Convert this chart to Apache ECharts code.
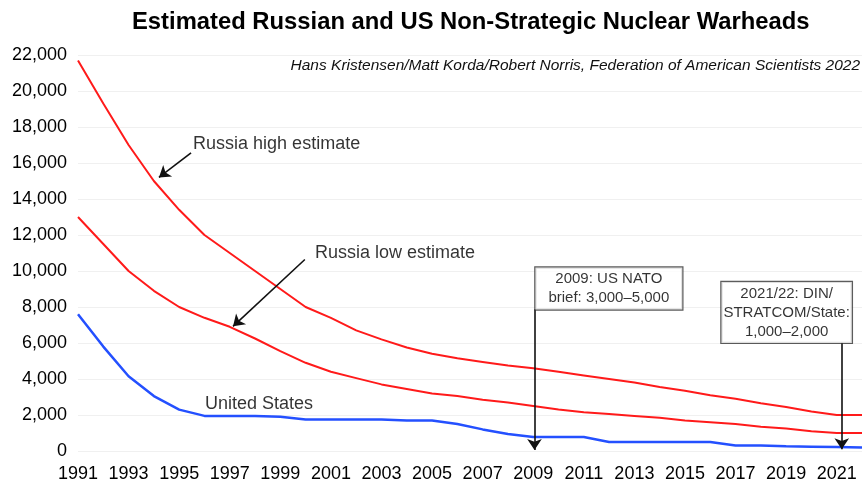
<!DOCTYPE html>
<html><head><meta charset="utf-8">
<script src="https://cdn.jsdelivr.net/npm/echarts@6/dist/echarts.min.js"></script>
<style>html,body{margin:0;padding:0;background:#fff}#c{width:867px;height:483px}</style>
</head><body><div id="c"></div>
<script>
// ---- data ----
const years = [1991,1992,1993,1994,1995,1996,1997,1998,1999,2000,2001,2002,2003,2004,2005,2006,2007,2008,2009,2010,2011,2012,2013,2014,2015,2016,2017,2018,2019,2020,2021,2022];
const russiaHigh = [21700,19300,17000,15000,13400,12000,11000,10000,9000,8000,7400,6700,6200,5750,5400,5150,4950,4750,4600,4400,4200,4000,3800,3550,3350,3100,2900,2650,2450,2200,2000,2000];
const russiaLow = [13000,11500,10000,8900,8000,7400,6900,6250,5550,4900,4400,4050,3700,3450,3200,3050,2850,2700,2500,2300,2150,2050,1950,1850,1700,1600,1500,1350,1250,1100,1000,1000];
const unitedStates = [7600,5800,4150,3050,2300,1950,1950,1950,1900,1750,1750,1750,1750,1700,1700,1500,1200,950,780,780,780,500,500,500,500,500,300,300,260,240,220,200];
const xTickLabels = [1991,1993,1995,1997,1999,2001,2003,2005,2007,2009,2011,2013,2015,2017,2019,2021];
const yMin = 0, yMax = 22000, yStep = 2000;

const titleText = 'Estimated Russian and US Non-Strategic Nuclear Warheads';
const sourceText = 'Hans Kristensen/Matt Korda/Robert Norris, Federation of American Scientists 2022';

// annotation arrows: [from, to] in [year, warheads]
const arrowNotes = [
  [[1995.47,16560],[1994.2,15200]],
  [[1999.97,10640],[1997.13,6925]],
  [[2009.05,7870],[2009.05,60]],
  [[2021.2,6040],[2021.2,100]]
];
// plain text notes: [text, year, warheads] (left edge, vertical middle)
const plainNotes = [
  ['Russia high estimate',1995.55,17060],
  ['Russia low estimate',2000.37,11020],
  ['United States',1996.02,2600]
];
// boxed notes: [text, year, warheads] (box centre)
const boxNotes = [
  ['2009: US NATO\nbrief: 3,000\u20135,000',2011.99,9030],
  ['2021/22: DIN/\nSTRATCOM/State:\n1,000\u20132,000',2019.02,7700]
];

// ---- chart ----
const FONT = '"Liberation Sans", Arial, sans-serif';
const pair = (xs, ys) => xs.map((x, i) => [x, ys[i]]);
const chart = echarts.init(document.getElementById('c'), null, {renderer:'canvas'});

const noteData = plainNotes.map(n => ({
  value:[n[1], n[2]],
  label:{show:true, formatter:n[0], position:[0,0], align:'left', verticalAlign:'middle',
    fontSize:18, fontFamily:FONT, color:'#000'}
})).concat(boxNotes.map((n, i) => ({
  value:[n[1], n[2]],
  label:{show:true, formatter:n[0], position:[0,0], align:'center', verticalAlign:'middle',
    fontSize:15, lineHeight:19, fontFamily:FONT, color:'#000',
    backgroundColor:'#fff', borderColor:'#333', borderWidth:1.2,
    padding: i === 0 ? [2,13,2,13] : [2,2,2,2]}
})));

chart.setOption({
  animation:false,
  backgroundColor:'#fff',
  title:[
    {text:titleText, left:127, top:5,
      textStyle:{fontSize:23.8, fontWeight:'bold', fontFamily:FONT, color:'#000'}},
    {text:sourceText, right:2, top:53,
      textStyle:{fontSize:15.5, fontStyle:'italic', fontWeight:'normal', fontFamily:FONT, color:'#111'}}
  ],
  grid:{left:78, right:5, top:55, bottom:31, containLabel:false},
  xAxis:{type:'value', min:years[0], max:years[years.length-1],
    axisLine:{show:false}, axisTick:{show:false}, splitLine:{show:false},
    axisLabel:{customValues:xTickLabels, formatter:v => String(v), fontSize:18, fontFamily:FONT, color:'#000', margin:14, showMinLabel:true}
  },
  yAxis:{type:'value', min:yMin, max:yMax, interval:yStep,
    axisLine:{show:false}, axisTick:{show:false},
    splitLine:{lineStyle:{color:'#f0f0f0', width:1}},
    axisLabel:{fontSize:18, fontFamily:FONT, color:'#000', margin:11}
  },
  series:[
    {name:'Russia high estimate', type:'line', data:pair(years, russiaHigh), showSymbol:false,
      lineStyle:{color:'#ff1a1a', width:2}, itemStyle:{color:'#ff1a1a'}},
    {name:'Russia low estimate', type:'line', data:pair(years, russiaLow), showSymbol:false,
      lineStyle:{color:'#ff1a1a', width:2}, itemStyle:{color:'#ff1a1a'}},
    {name:'United States', type:'line', data:pair(years, unitedStates), showSymbol:false,
      lineStyle:{color:'#2450ff', width:2.5}, itemStyle:{color:'#2450ff'}},
    {name:'notes', type:'scatter', data:noteData, symbolSize:0, silent:true, z:10},
    {name:'arrows', type:'line', data:[], silent:true, z:11,
      markLine:{silent:true, symbol:['none','arrow'], symbolSize:11, animation:false,
        itemStyle:{color:'#111'},
        lineStyle:{color:'#111', width:1.6, type:'solid'}, label:{show:false},
        emphasis:{disabled:true},
        data:arrowNotes.map(a => [{coord:a[0]}, {coord:a[1]}])}
    }
  ]
});
</script></body></html>
